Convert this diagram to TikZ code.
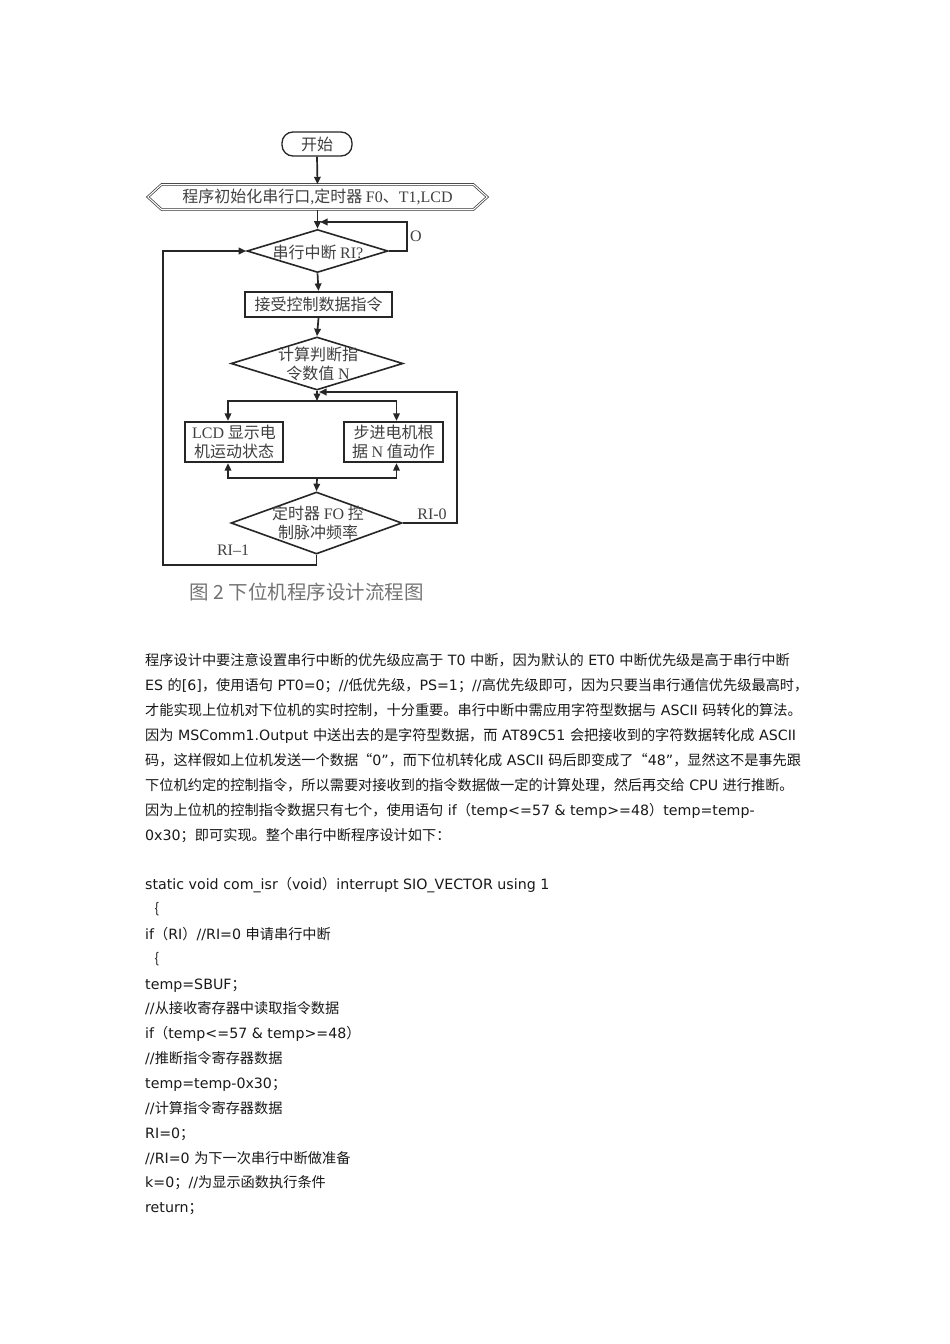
\documentclass[tikz,border=0pt]{standalone}
\usepackage{fontspec}
\setmainfont{DejaVu Sans}
\newfontfamily\cjk{Noto Sans CJK SC}
\newfontfamily\ser{Liberation Serif}
\newcommand\zh[1]{{\cjk #1}}
\usetikzlibrary{shapes.geometric,arrows.meta}
\tikzset{
 ln/.style={line width=1.7pt, draw=black!85},
 arr/.style={ln, -{Triangle[length=7.5pt,width=6.5pt]}},
 fc/.style={font=\fontsize{16}{19}\selectfont\cjk, text=black!75, align=center},
 dia/.style={diamond, draw=black!85, line width=1.6pt, inner sep=0pt},
 fbox/.style={rectangle, draw=black!85, line width=2.2pt, inner sep=0pt},
 lbl/.style={font=\fontsize{16}{19}\selectfont\ser, text=black!75, inner sep=0pt},
 body/.style={anchor=base west, inner sep=0pt, font=\fontsize{14.2}{17}\selectfont, text=black!90},
}
\begin{document}
\begin{tikzpicture}[x=1pt,y=-1pt]
\useasboundingbox[fill=white] (0,0) rectangle (950,1344);
% ---------- flowchart ----------
\node[fc, draw=black!85, line width=1.3pt, rounded corners=11pt, minimum width=70pt, minimum height=24pt, inner sep=0pt] (start) at (317,144) {开始};
\node[fc, minimum width=339pt, minimum height=25pt, inner sep=0pt] (init) at (317.5,197) {程序初始化串行口{\ser ,}定时器 {\ser F0}、{\ser T1,LCD}};
\draw[black!80, double, double distance=1.1pt, line width=0.7pt] (init.west) -- ([xshift=14pt]init.north west) -- ([xshift=-14pt]init.north east) -- (init.east) -- ([xshift=-14pt]init.south east) -- ([xshift=14pt]init.south west) -- cycle;
\node[dia, minimum width=141pt, minimum height=43pt] (d1) at (317.5,251) {};
\node[fc, inner sep=0pt] (t1) at (318,252) {串行中断 {\ser RI?}};
\node[fc, fbox, minimum width=147pt, minimum height=25pt] (recv) at (318.5,304.5) {接受控制数据指令};
\node[dia, minimum width=172pt, minimum height=53pt] (d2) at (317,363.5) {};
\node[fc, inner sep=0pt] (t2) at (318,364) {计算判断指\\令数值 {\ser N}};
\node[fc, fbox, minimum width=98pt, minimum height=40pt] (lcd) at (234,442) {{\ser LCD} 显示电\\机运动状态};
\node[fc, fbox, minimum width=99pt, minimum height=40pt] (step) at (393.5,442) {步进电机根\\据 {\ser N} 值动作};
\node[dia, minimum width=171pt, minimum height=62pt] (d3) at (316.5,523) {};
\node[fc, inner sep=0pt] (t3) at (318,523) {定时器 {\ser FO} 控\\制脉冲频率};
\coordinate (j1) at (317,401);
\coordinate (j2) at (317,478);
\coordinate (oR) at (407,222);
\coordinate (oE) at (320,222);
\coordinate (rR) at (457,392);
\coordinate (rE) at (319,392);
\coordinate (bL) at (163,565);
% connectors
\draw[arr] (start.south) -- (init.north);
\draw[arr] (init.south) -- (d1.north);
\draw[arr] (d1.east) -| (oR) -- (oE);
\draw[arr] (d1.south) -- (recv.north);
\draw[arr] (recv.south) -- (d2.north);
\draw[arr] (d2.south) -- (j1);
\draw[arr] (j1) -| ([xshift=-6pt]lcd.north);
\draw[arr] (j1) -| ([xshift=3pt]step.north);
\draw[arr] (j2) -| ([xshift=-6pt]lcd.south);
\draw[arr] (j2) -| ([xshift=3pt]step.south);
\draw[arr] (j2) -- (d3.north);
\draw[arr] (d3.east) -| (rR) -- (rE);
\draw[arr] (d3.south) |- (bL) |- (d1.west);
\node[lbl] (lo) at (416,236) {O};
\node[lbl] (lr0) at (432,514) {RI-0};
\node[lbl] (lr1) at (233,550) {RI–1};
\node[font=\fontsize{19.5}{21}\selectfont\cjk, text=black!55, inner sep=0pt] (cap) at (306.5,592) {图 2 下位机程序设计流程图};
% ---------- body text ----------
\node[body] (l1) at (145,665) {\zh{程序设计中要注意设置串行中断的优先级应高于} T0 \zh{中断，因为默认的} ET0 \zh{中断优先级是高于串行中断}};
\node[body] (l2) at (145,690) {ES \zh{的}[6]\zh{，使用语句} PT0=0\zh{；}//\zh{低优先级，}PS=1\zh{；}//\zh{高优先级即可，因为只要当串行通信优先级最高时，}};
\node[body] (l3) at (145,715) {\zh{才能实现上位机对下位机的实时控制，十分重要。串行中断中需应用字符型数据与} ASCII \zh{码转化的算法。}};
\node[body] (l4) at (145,740) {\zh{因为} MSComm1.Output \zh{中送出去的是字符型数据，而} AT89C51 \zh{会把接收到的字符数据转化成} ASCII};
\node[body] (l5) at (145,765) {\zh{码，这样假如上位机发送一个数据“}0”\zh{，而下位机转化成} ASCII \zh{码后即变成了“}48”\zh{，显然这不是事先跟}};
\node[body] (l6) at (145,790) {\zh{下位机约定的控制指令，所以需要对接收到的指令数据做一定的计算处理，然后再交给} CPU \zh{进行推断。}};
\node[body] (l7) at (145,815) {\zh{因为上位机的控制指令数据只有七个，使用语句} if\zh{（}temp<=57 \& temp>=48\zh{）}temp=temp-};
\node[body] (l8) at (145,840) {0x30\zh{；即可实现。整个串行中断程序设计如下：}};
% ---------- code ----------
\node[body] (c1) at (145,889) {static void com\_isr\zh{（}void\zh{）}interrupt SIO\_VECTOR using 1};
\node[body] (c2) at (145,914) {\zh{｛}};
\node[body] (c3) at (145,939) {if\zh{（}RI\zh{）}//RI=0 \zh{申请串行中断}};
\node[body] (c4) at (145,964) {\zh{｛}};
\node[body] (c5) at (145,989) {temp=SBUF\zh{；}};
\node[body] (c6) at (145,1013) {//\zh{从接收寄存器中读取指令数据}};
\node[body] (c7) at (145,1038) {if\zh{（}temp<=57 \& temp>=48\zh{）}};
\node[body] (c8) at (145,1063) {//\zh{推断指令寄存器数据}};
\node[body] (c9) at (145,1088) {temp=temp-0x30\zh{；}};
\node[body] (c10) at (145,1113) {//\zh{计算指令寄存器数据}};
\node[body] (c11) at (145,1138) {RI=0\zh{；}};
\node[body] (c12) at (145,1163) {//RI=0 \zh{为下一次串行中断做准备}};
\node[body] (c13) at (145,1187) {k=0\zh{；}//\zh{为显示函数执行条件}};
\node[body] (c14) at (145,1212) {return\zh{；}};
\end{tikzpicture}
\end{document}
